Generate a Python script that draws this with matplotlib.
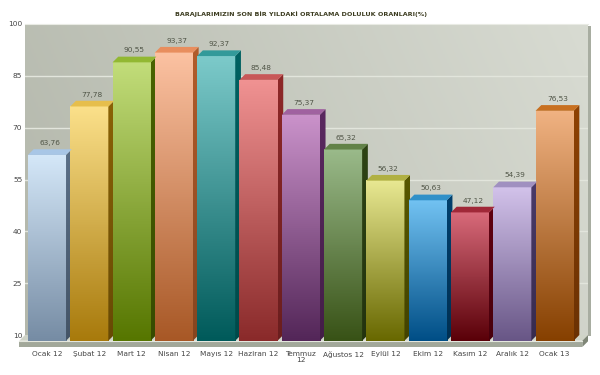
import numpy as np
import matplotlib
matplotlib.use('Agg')
import matplotlib.pyplot as plt
from matplotlib.patches import Polygon, Rectangle
from matplotlib.colors import LinearSegmentedColormap, to_rgb

# data
months = ['Ocak 12', 'Şubat 12', 'Mart 12', 'Nisan 12', 'Mayıs 12', 'Haziran 12', 'Temmuz\n12',
          'Ağustos 12', 'Eylül 12', 'Ekim 12', 'Kasım 12', 'Aralık 12', 'Ocak 13']
fill_rates = [63.76, 77.78, 90.55, 93.37, 92.37, 85.48, 75.37, 65.32, 56.32, 50.63, 47.12, 54.39, 76.53]
yticks = [10, 25, 40, 55, 70, 85, 100]
title = 'BARAJLARIMIZIN SON BİR YILDAKİ ORTALAMA DOLULUK ORANLARI(%)'

# styles: front top, front bottom, side, top face
bar_styles = [
    ('#d4e7f8', '#768ca4', '#5b7088', '#a8c6e6'),
    ('#fbe08a', '#a87a0c', '#8a6206', '#e6be4c'),
    ('#c2dd7a', '#567600', '#496400', '#92b832'),
    ('#fcc2a2', '#a85826', '#b25c2a', '#e88e5e'),
    ('#7ccaca', '#005a5a', '#006262', '#329a9a'),
    ('#f09292', '#8a2a2a', '#8e2828', '#c85858'),
    ('#ca92ca', '#532658', '#5a2860', '#a062a0'),
    ('#9aba8a', '#385216', '#2e4414', '#628248'),
    ('#e8e892', '#686800', '#585800', '#b0b042'),
    ('#72c2f2', '#004e86', '#00406e', '#3090c8'),
    ('#d86a7a', '#5a0008', '#600010', '#a02838'),
    ('#d2c2ea', '#685686', '#4a3a68', '#a090c0'),
    ('#f0b282', '#864000', '#8e4204', '#c87020'),
]

W, H = 600, 375
fig = plt.figure(figsize=(W / 100, H / 100), dpi=100)
fig.patch.set_facecolor('white')

# pixel geometry of the plot box
px_left, px_right = 25, 588
px_top, px_base, px_bottom = 24, 335, 347
px_c0, px_step = 47, 42.3
ppu = (px_base - px_top) / 90.0
ax = fig.add_axes([px_left / W, 1 - px_bottom / H, (px_right - px_left) / W, (px_bottom - px_top) / H])
x_lo = (px_left - px_c0) / px_step
x_hi = (px_right - px_c0) / px_step
y_lo = 10 - (px_bottom - px_base) / ppu
ax.set_xlim(x_lo, x_hi)
ax.set_ylim(y_lo, 100)
for s in ax.spines.values():
    s.set_visible(False)

dpx = 5.7
dx = dpx / px_step
dy = dpx / ppu

# back wall gradient
grad = np.linspace(0, 1, 256)
wall_cmap = LinearSegmentedColormap.from_list('wall', ['#b3b7ab', '#d8dbd2'])
gx, gy = np.meshgrid(grad, np.linspace(0, 1, 64))
ax.imshow(0.8 * gx + 0.2 * gy, extent=[x_lo, x_hi, 10, 100], cmap=wall_cmap, aspect='auto',
          origin='lower', zorder=0, vmin=0, vmax=1)
ax.add_patch(Rectangle((x_hi, 10 - 0.3), 3.0 / px_step, 90 - 0.3, facecolor='#a8ada1',
                       edgecolor='none', clip_on=False, zorder=0))
ax.plot([x_lo, x_hi], [100, 100], color='#e9ebe4', lw=0.8, zorder=1, clip_on=False)
for t in yticks[1:-1]:
    ax.plot([x_lo, x_hi], [t, t], color='#e2e5dc', lw=1.0, zorder=1)

# floor slab
floor_top = Polygon([(x_lo - dx, 10 - dy), (x_lo, 10), (x_hi, 10), (x_hi - dx, 10 - dy)],
                    closed=True, facecolor='#cfd3c7', edgecolor='none', clip_on=False, zorder=1)
ax.add_patch(floor_top)
ax.add_patch(Rectangle((x_lo - dx, y_lo), x_hi - x_lo, 10 - dy - y_lo, facecolor='#a2a89a',
                       edgecolor='none', clip_on=False, zorder=1))
ax.add_patch(Polygon([(x_hi - dx, 10 - dy), (x_hi, 10), (x_hi, y_lo + dy), (x_hi - dx, y_lo)],
                     closed=True, facecolor='#7f8677', edgecolor='none', clip_on=False, zorder=1))
ax.plot([x_lo - dx, x_hi - dx], [10 - dy, 10 - dy], color='#e4e7de', lw=0.8, zorder=1, clip_on=False)

# bars
hw = 0.45
for i, v in enumerate(fill_rates):
    c_top, c_bot, c_side, c_cap = bar_styles[i]
    x0, x1 = i - hw, i + hw
    y0, y1 = 10 - dy, v - dy
    cmap = LinearSegmentedColormap.from_list('b%d' % i, [c_bot, c_top])
    ax.imshow(np.linspace(0, 1, 128).reshape(-1, 1), extent=[x0, x1, y0, y1], cmap=cmap,
              aspect='auto', origin='lower', zorder=3)
    side_dark = tuple(0.75 * np.array(to_rgb(c_side)))
    side_cmap = LinearSegmentedColormap.from_list('s%d' % i, [side_dark, c_side])
    side = Polygon([(x1, y0), (x1 + dx, y0 + dy), (x1 + dx, v), (x1, y1)], closed=True,
                   facecolor='none', edgecolor='none', zorder=3)
    ax.add_patch(side)
    im = ax.imshow(np.linspace(0, 1, 128).reshape(-1, 1), extent=[x1, x1 + dx, y0, v],
                   cmap=side_cmap, aspect='auto', origin='lower', zorder=3)
    im.set_clip_path(side)
    ax.add_patch(Polygon([(x0, y1), (x0 + dx, v), (x1 + dx, v), (x1, y1)], closed=True,
                         facecolor=c_cap, edgecolor='none', zorder=4))
    ax.text(i + dx / 2, v + 1.8, ('%.2f' % v).replace('.', ','), ha='center', va='center',
            fontsize=5.3, color='#4f5446', zorder=5)

ax.set_xticks(range(len(months)))
ax.set_xticklabels(months, fontsize=5.3, color='#444444', linespacing=1.0)
ax.set_yticks(yticks)
ax.set_yticklabels([str(t) for t in yticks], fontsize=5.3, color='#444444')
ax.tick_params(axis='both', length=0)
ax.tick_params(axis='x', pad=3)
ax.tick_params(axis='y', pad=2)

fig.text(301 / W, 1 - 14 / H, title, ha='center', va='center', fontsize=4.6,
         fontweight='bold', color='#3c3c20')

fig.savefig('out.png', dpi=100)
